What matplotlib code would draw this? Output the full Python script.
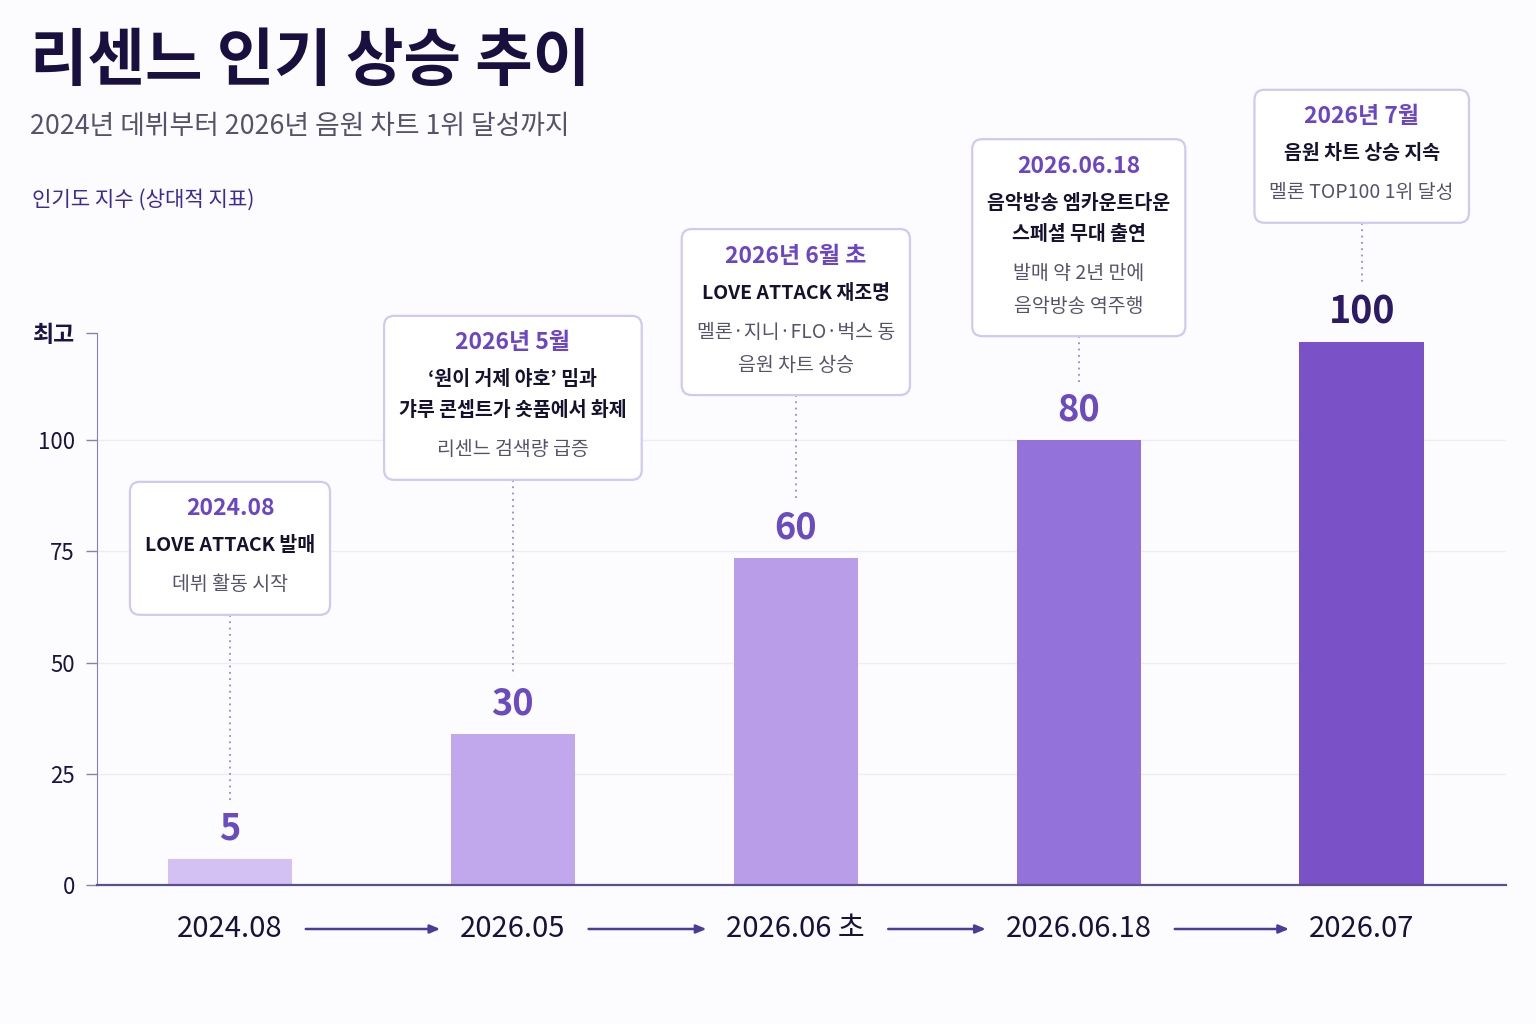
import numpy as np
import matplotlib.pyplot as plt
from matplotlib.patches import FancyBboxPatch
from matplotlib.transforms import Bbox

plt.rcParams['font.family'] = ['Noto Sans CJK KR', 'DejaVu Sans']

# ---- data ----
periods = ['2024.08', '2026.05', '2026.06 초', '2026.06.18', '2026.07']
index_labels = [5, 30, 60, 80, 100]
bar_heights = [5.8, 34, 73.5, 100, 122]       # as drawn against the y axis
y_ticks = [0, 25, 50, 75, 100, 124]
y_tick_labels = ['0', '25', '50', '75', '100', '최고']

event_dates = ['2024.08', '2026년 5월', '2026년 6월 초', '2026.06.18', '2026년 7월']
event_titles = [['LOVE ATTACK 발매'],
                ['‘원이 거제 야호’ 밈과', '갸루 콘셉트가 숏품에서 화제'],
                ['LOVE ATTACK 재조명'],
                ['음악방송 엠카운트다운', '스페셜 무대 출연'],
                ['음원 차트 상승 지속']]
event_notes = [['데뷔 활동 시작'],
               ['리센느 검색량 급증'],
               ['멜론·지니·FLO·벅스 동', '음원 차트 상승'],
               ['발매 약 2년 만에', '음악방송 역주행'],
               ['멜론 TOP100 1위 달성']]

# ---- style / layout ----
bar_colors = ['#d3c1f3', '#c1a8ec', '#b99de9', '#9372da', '#7a51c7']
box_tops = [90.6, 127.9, 147.4, 167.6, 178.7]   # top of each callout, y units
PX = 4.45                                       # pixels per y unit
bg = '#fcfcfe'

fig = plt.figure(figsize=(15.36, 10.24), dpi=100, facecolor=bg)
ax = fig.add_axes([97 / 1536, 139 / 1024, 1409 / 1536, 885 / 1024])
ax.set_facecolor('none')

x = np.arange(len(periods))
ax.bar(x, bar_heights, width=0.44, color=bar_colors, zorder=2)

ax.set_xlim(-0.47, 4.51)
ax.set_ylim(0, 885 / PX)

for g in y_ticks[1:-1]:
    ax.axhline(g, color='#ededf3', lw=1, zorder=1)

ax.set_yticks(y_ticks)
ax.set_yticklabels(y_tick_labels, fontsize=16, color='#1a1440')
ax.get_yticklabels()[-1].set_fontweight('bold')
ax.get_yticklabels()[-1].set_fontsize(16.5)
ax.tick_params(axis='y', length=8, width=1, color='#8a80b0', pad=8)
ax.set_xticks(x)
ax.set_xticklabels(periods, fontsize=21, color='#16123a')
ax.tick_params(axis='x', length=0, pad=21)

for s in ['top', 'right']:
    ax.spines[s].set_visible(False)
ax.spines['left'].set_bounds(0, y_ticks[-1])
ax.spines['left'].set_color('#8a80b0')
ax.spines['bottom'].set_color('#5a5090')
ax.spines['bottom'].set_linewidth(1.6)

# value labels
for i, (h, v) in enumerate(zip(bar_heights, index_labels)):
    last = i == len(index_labels) - 1
    ax.text(i, h + 30 / PX, str(v), ha='center', va='center',
            fontsize=27 if last else 26, fontweight='bold',
            color='#2c1a66' if last else '#6a4bc0', zorder=4)

# callout texts
groups = []
for i in range(len(periods)):
    top = box_tops[i]
    texts = []
    off = 27
    texts.append(ax.text(i, top - off / PX, event_dates[i], ha='center', va='center',
                         fontsize=16.5, fontweight='semibold', color='#6a45c8', zorder=5))
    off += 37
    for j, line in enumerate(event_titles[i]):
        if j > 0:
            off += 31
        texts.append(ax.text(i, top - off / PX, line, ha='center', va='center',
                             fontsize=14, fontweight='bold', color='#15122e', zorder=5))
    off += 39
    for j, line in enumerate(event_notes[i]):
        if j > 0:
            off += 33
        texts.append(ax.text(i, top - off / PX, line, ha='center', va='center',
                             fontsize=14, color='#55536a', zorder=5))
    groups.append((texts, off))

fig.canvas.draw()
rend = fig.canvas.get_renderer()
inv = fig.dpi_scale_trans.inverted()

for i, (texts, off) in enumerate(groups):
    bb = Bbox.union([t.get_window_extent(rend) for t in texts])
    top_disp = ax.transData.transform((i, box_tops[i]))[1]
    bottom_y = box_tops[i] - (off + 30) / PX
    bot_disp = ax.transData.transform((i, bottom_y))[1]
    x0, x1 = bb.x0 - 15, bb.x1 + 15
    (ix0, iy0) = inv.transform((x0, bot_disp))
    (ix1, iy1) = inv.transform((x1, top_disp))
    box = FancyBboxPatch((ix0, iy0), ix1 - ix0, iy1 - iy0,
                         boxstyle='round,pad=0,rounding_size=0.1',
                         transform=fig.dpi_scale_trans, facecolor='white',
                         edgecolor='#d2c8f0', lw=1.6, zorder=3, clip_on=False)
    ax.add_artist(box)
    # dotted connector down to the value label
    ax.plot([i, i], [bottom_y, bar_heights[i] + 58 / PX], ls=(0, (1, 2.5)),
            color='#9a85d8', lw=1.3, zorder=2)

# arrows between period labels
labels = ax.get_xticklabels()
ext = [lb.get_window_extent(rend) for lb in labels]
to_data = ax.transData.inverted()
for i in range(len(labels) - 1):
    xs = to_data.transform((ext[i].x1 + 23, 0))[0]
    xe = to_data.transform((ext[i + 1].x0 - 20, 0))[0]
    ax.annotate('', xy=(xe, -44 / 885), xytext=(xs, -44 / 885),
                xycoords=ax.get_xaxis_transform(), textcoords=ax.get_xaxis_transform(),
                arrowprops=dict(arrowstyle='-|>,head_length=0.6,head_width=0.25',
                                color='#4b3b9b', lw=1.8, shrinkA=0, shrinkB=0),
                annotation_clip=False)

# titles
fig.text(30 / 1536, 1 - 62 / 1024, '리센느 인기 상승 추이', fontsize=45, fontweight='black',
         color='#1a1040', va='center', ha='left')
fig.text(30 / 1536, 1 - 127 / 1024, '2024년 데뷔부터 2026년 음원 차트 1위 달성까지',
         fontsize=19.3, color='#55536a', va='center', ha='left')
fig.text(32 / 1536, 1 - 200 / 1024, '인기도 지수 (상대적 지표)', fontsize=15.2,
         color='#3a2a9a', va='center', ha='left')

fig.savefig('out.png', dpi=100, facecolor=bg)
